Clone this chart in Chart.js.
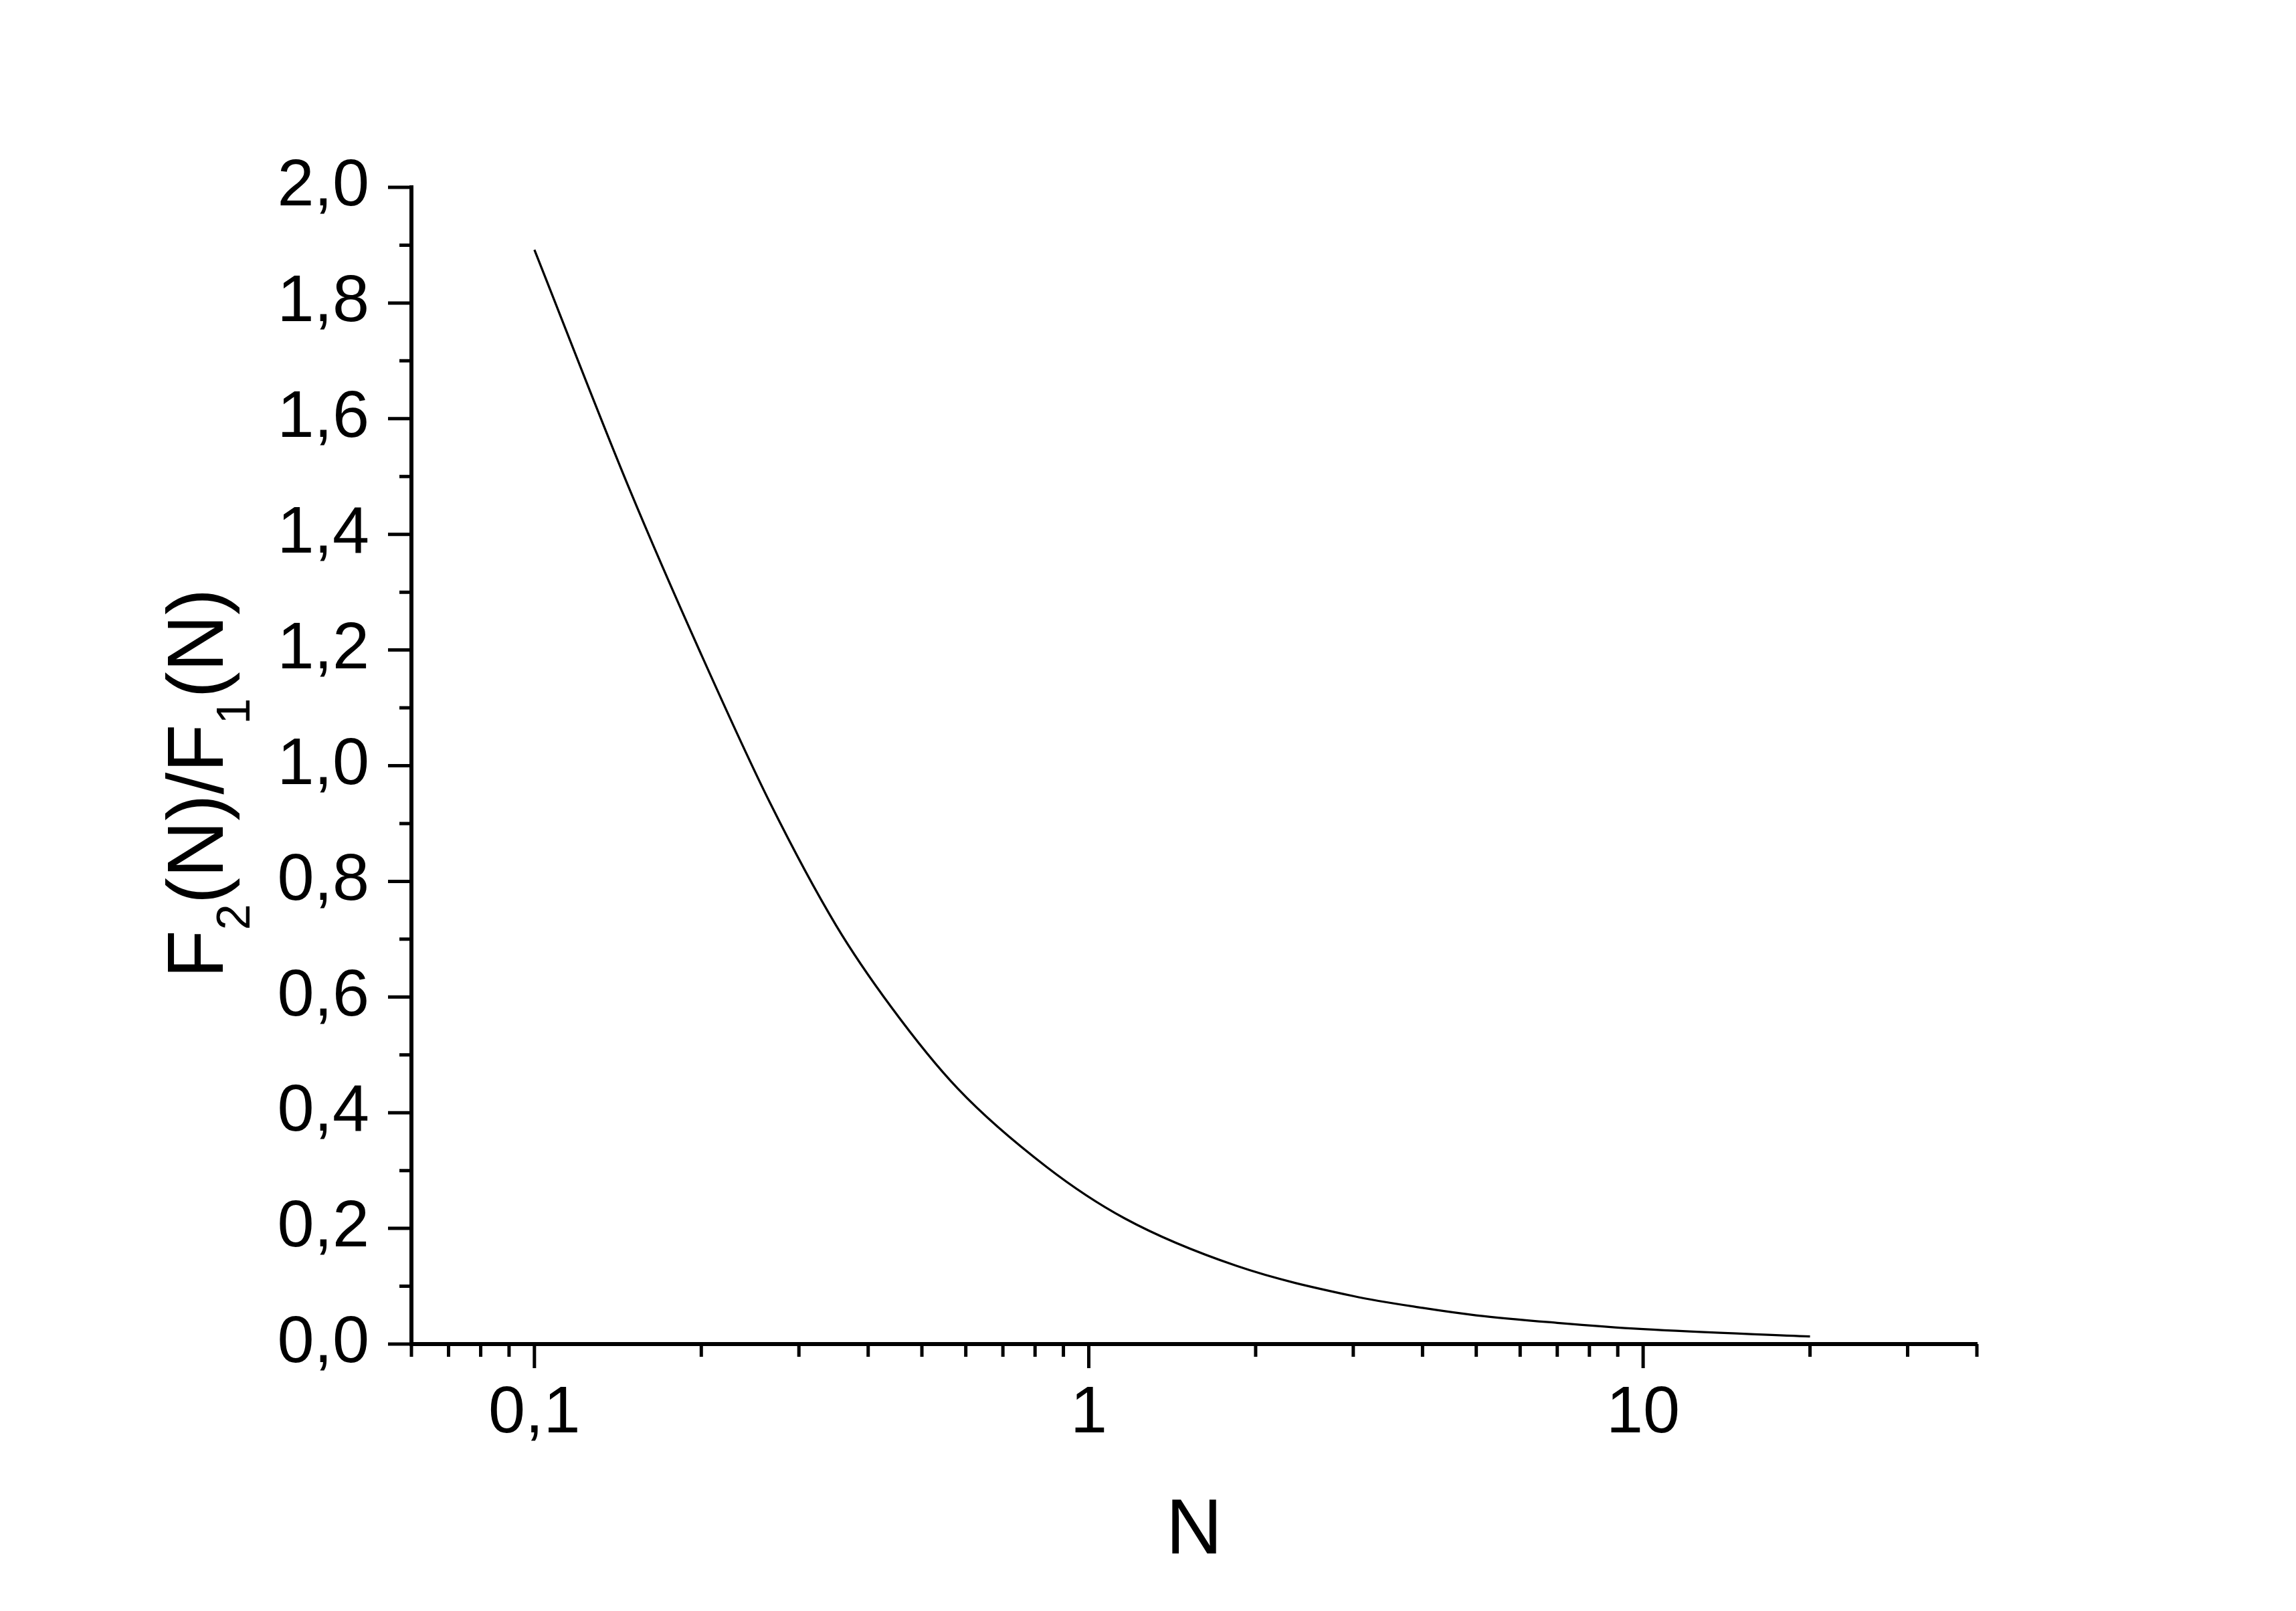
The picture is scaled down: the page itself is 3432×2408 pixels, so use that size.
<!DOCTYPE html>
<html>
<head>
<meta charset="utf-8">
<script src="https://cdn.jsdelivr.net/npm/chart.js@4.4.1/dist/chart.umd.min.js"></script>
<style>
  html, body { margin: 0; padding: 0; background: #ffffff; }
  #wrap { width: 3432px; height: 2408px; position: relative; }
</style>
</head>
<body>
<div id="wrap"><canvas id="c" width="3432" height="2408"></canvas></div>
<script>
// ---- data ----
const nValues = [0.1, 0.148, 0.2, 0.266, 0.35, 0.44, 0.58, 0.84, 1.16, 1.85, 3, 4, 5, 7, 10, 20];
const ratioValues = [1.892, 1.481, 1.192, 0.936, 0.724, 0.583, 0.442, 0.306, 0.2175, 0.135, 0.083, 0.0625, 0.0497, 0.0367, 0.0258, 0.0131];

const xMajorTicks = [0.1, 1, 10];
const xTickLabels = ['0,1', '1', '10'];
const xMinorTicks = [0.06, 0.07, 0.08, 0.09, 0.2, 0.3, 0.4, 0.5, 0.6, 0.7, 0.8, 0.9, 2, 3, 4, 5, 6, 7, 8, 9, 20, 30, 40];
const yMajorTicks = [0, 0.2, 0.4, 0.6, 0.8, 1.0, 1.2, 1.4, 1.6, 1.8, 2.0];
const yMinorTicks = [0.1, 0.3, 0.5, 0.7, 0.9, 1.1, 1.3, 1.5, 1.7, 1.9];
const xTitle = 'N';
const yTitleParts = [['F', 0], ['2', 1], ['(N)/F', 0], ['1', 1], ['(N)', 0]];

const FONT = '"Liberation Sans", Arial, sans-serif';

const tickPlugin = {
  id: 'originTicks',
  afterDraw(chart) {
    const ctx = chart.ctx;
    const xs = chart.scales.x, ys = chart.scales.y;
    const area = chart.chartArea;
    ctx.save();
    ctx.strokeStyle = '#000';
    ctx.lineWidth = 5;
    ctx.lineCap = 'butt';
    ctx.beginPath();
    xMajorTicks.forEach(v => { const p = xs.getPixelForValue(v); ctx.moveTo(p, area.bottom); ctx.lineTo(p, area.bottom + 36); });
    xMinorTicks.forEach(v => { const p = xs.getPixelForValue(v); ctx.moveTo(p, area.bottom); ctx.lineTo(p, area.bottom + 19); });
    yMajorTicks.forEach(v => { const p = ys.getPixelForValue(v); ctx.moveTo(area.left, p); ctx.lineTo(area.left - 35, p); });
    yMinorTicks.forEach(v => { const p = ys.getPixelForValue(v); ctx.moveTo(area.left, p); ctx.lineTo(area.left - 18, p); });
    ctx.stroke();

    // y axis title with subscripts
    const mainFont = '118px ' + FONT, subFont = '70px ' + FONT;
    let total = 0;
    yTitleParts.forEach(([t, s]) => { ctx.font = s ? subFont : mainFont; total += ctx.measureText(t).width; });
    ctx.translate(333, 1171);
    ctx.rotate(-Math.PI / 2);
    ctx.fillStyle = '#000';
    ctx.textBaseline = 'alphabetic';
    ctx.textAlign = 'left';
    let x = -total / 2;
    yTitleParts.forEach(([t, s]) => {
      ctx.font = s ? subFont : mainFont;
      ctx.fillText(t, x, s ? 40 : 0);
      x += ctx.measureText(t).width;
    });
    ctx.restore();
  }
};

new Chart(document.getElementById('c'), {
  type: 'line',
  data: {
    datasets: [{
      data: nValues.map((n, i) => ({ x: n, y: ratioValues[i] })),
      borderColor: '#000000',
      borderWidth: 3.3,
      pointRadius: 0,
      fill: false,
      cubicInterpolationMode: 'monotone'
    }]
  },
  options: {
    responsive: false,
    animation: false,
    events: [],
    layout: { padding: { left: 0, top: 280, right: 477, bottom: 0 } },
    plugins: { legend: { display: false }, tooltip: { enabled: false }, title: { display: false } },
    scales: {
      x: {
        type: 'logarithmic',
        min: 0.06,
        max: 40,
        afterBuildTicks(scale) { scale.ticks = xMajorTicks.map(v => ({ value: v })); },
        afterFit(scale) { scale.height = 399; },
        grid: { display: true, drawOnChartArea: false, drawTicks: false },
        border: { display: true, color: '#000', width: 6 },
        ticks: {
          autoSkip: false,
          maxRotation: 0,
          padding: 45,
          color: '#000',
          font: { family: FONT, size: 99 },
          callback: function (value) { const i = xMajorTicks.indexOf(value); return i >= 0 ? xTickLabels[i] : ''; }
        },
        title: {
          display: true,
          text: xTitle,
          color: '#000',
          font: { family: FONT, size: 117 },
          padding: { top: 0, bottom: 48 }
        }
      },
      y: {
        type: 'linear',
        min: 0,
        max: 2,
        afterBuildTicks(scale) { scale.ticks = yMajorTicks.map(v => ({ value: v })); },
        afterFit(scale) { scale.width = 615; },
        grid: { display: true, drawOnChartArea: false, drawTicks: false },
        border: { display: true, color: '#000', width: 6 },
        ticks: {
          padding: 63,
          color: '#000',
          font: { family: FONT, size: 99 },
          callback: function (value) { return Number(value).toFixed(1).replace('.', ','); }
        }
      }
    }
  },
  plugins: [tickPlugin]
});
</script>
</body>
</html>
